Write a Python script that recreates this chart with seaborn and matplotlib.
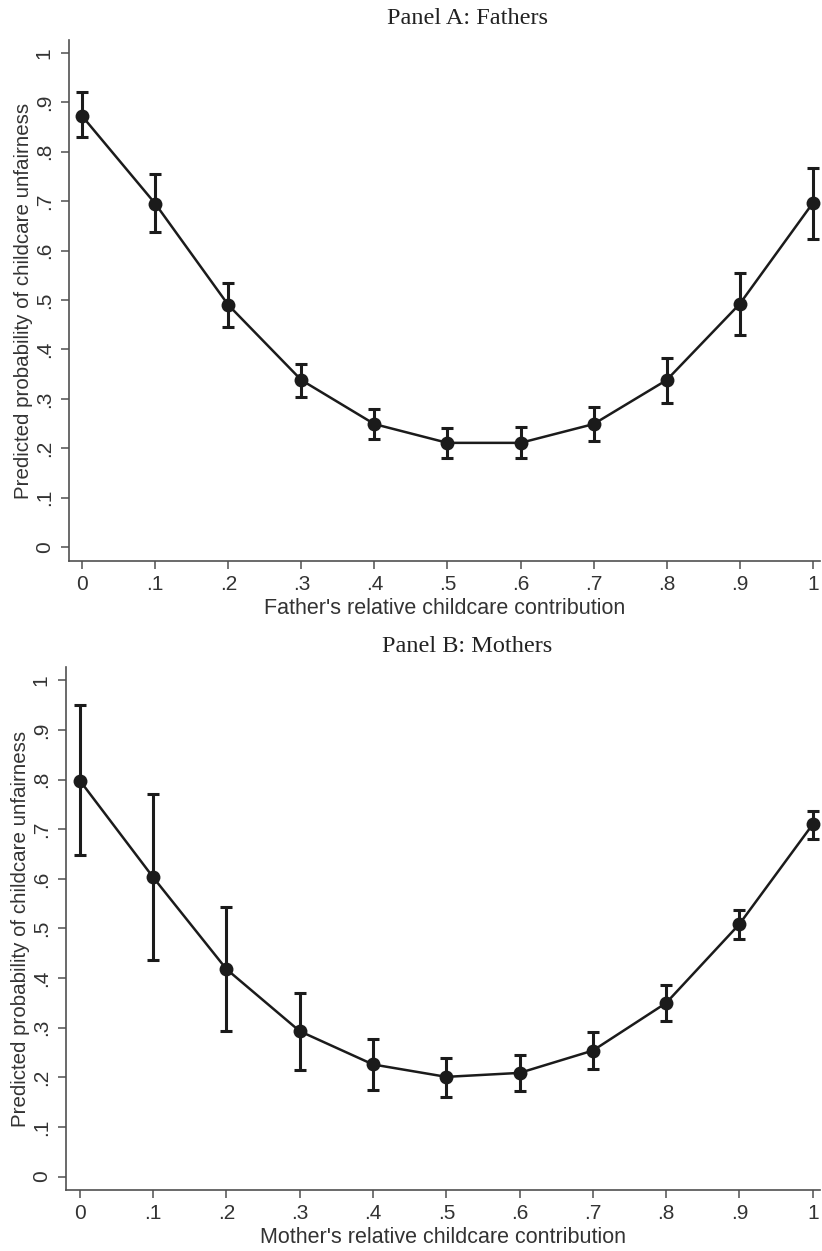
import numpy as np
import pandas as pd
import matplotlib
matplotlib.use("Agg")
import matplotlib.pyplot as plt
import seaborn as sns

# ---- data ----
x_share = [0.0, 0.1, 0.2, 0.3, 0.4, 0.5, 0.6, 0.7, 0.8, 0.9, 1.0]
fathers_pred = [0.872, 0.695, 0.490, 0.338, 0.249, 0.211, 0.211, 0.249, 0.338, 0.492, 0.696]
fathers_lo   = [0.829, 0.638, 0.446, 0.304, 0.219, 0.181, 0.180, 0.214, 0.292, 0.429, 0.623]
fathers_hi   = [0.920, 0.754, 0.535, 0.370, 0.280, 0.241, 0.243, 0.284, 0.383, 0.554, 0.768]
mothers_pred = [0.798, 0.603, 0.418, 0.293, 0.226, 0.201, 0.209, 0.254, 0.350, 0.509, 0.710]
mothers_lo   = [0.648, 0.436, 0.293, 0.215, 0.175, 0.161, 0.172, 0.217, 0.313, 0.479, 0.681]
mothers_hi   = [0.950, 0.771, 0.544, 0.371, 0.277, 0.240, 0.245, 0.292, 0.387, 0.538, 0.737]
tick_vals = [0, 0.1, 0.2, 0.3, 0.4, 0.5, 0.6, 0.7, 0.8, 0.9, 1.0]
tick_labels = ["0", ".1", ".2", ".3", ".4", ".5", ".6", ".7", ".8", ".9", "1"]
panel_titles = ["Panel A: Fathers", "Panel B: Mothers"]
x_labels = ["Father's relative childcare contribution", "Mother's relative childcare contribution"]
y_label = "Predicted probability of childcare unfairness"

sns.set_theme(style="ticks")
plt.rcParams["font.family"] = ["Liberation Sans", "DejaVu Sans"]

fig = plt.figure(figsize=(8.22, 12.51), dpi=100)
W, H = 822, 1251

# axes boxes in pixels: left, right, top, bottom
boxes = [(69, 820, 40, 561), (66, 820, 667, 1190)]
xlims = [(-0.018, 1.0099), (-0.019, 1.0099)]
ylims = [(-0.028, 1.026), (-0.027, 1.027)]
title_y = [18, 647]

series = [(fathers_pred, fathers_lo, fathers_hi), (mothers_pred, mothers_lo, mothers_hi)]
line_col = "#1b1b1b"
axis_col = "#505050"
text_col = "#333333"

for i in range(2):
    l, r, t, b = boxes[i]
    ax = fig.add_axes([l / W, 1 - b / H, (r - l) / W, (b - t) / H])
    pred, lo, hi = series[i]
    df = pd.DataFrame({"x": x_share, "p": pred, "lo": lo, "hi": hi})
    ax.errorbar(df["x"], df["p"],
                yerr=[df["p"] - df["lo"], df["hi"] - df["p"]],
                fmt="none", ecolor=line_col, elinewidth=2.2, capsize=4.2,
                capthick=2.2, zorder=2)
    sns.lineplot(data=df, x="x", y="p", ax=ax, color=line_col, linewidth=1.8,
                 marker="o", markersize=10, markeredgewidth=0,
                 markerfacecolor=line_col, zorder=3)
    ax.set_xlim(*xlims[i])
    ax.set_ylim(*ylims[i])
    ax.set_xticks(tick_vals)
    ax.set_xticklabels(tick_labels)
    ax.set_yticks(tick_vals)
    ax.set_yticklabels(tick_labels, rotation=90, va="center")
    ax.tick_params(axis="both", length=6, width=1.1, color=axis_col,
                   labelcolor=text_col, labelsize=15)
    ax.tick_params(axis="x", pad=4)
    ax.tick_params(axis="y", pad=5)
    ax.set_xlabel(x_labels[i], fontsize=15.5, color=text_col, labelpad=3)
    ax.set_ylabel(y_label, fontsize=14.8, color=text_col, labelpad=1)
    sns.despine(ax=ax)
    for s in ("left", "bottom"):
        ax.spines[s].set_color(axis_col)
        ax.spines[s].set_linewidth(1.2)
    fig.text(467 / W, 1 - title_y[i] / H, panel_titles[i], ha="center", va="center",
             fontsize=17.5, family=["Liberation Serif", "DejaVu Serif"], color="#222222")

fig.savefig("out.png", dpi=100)
